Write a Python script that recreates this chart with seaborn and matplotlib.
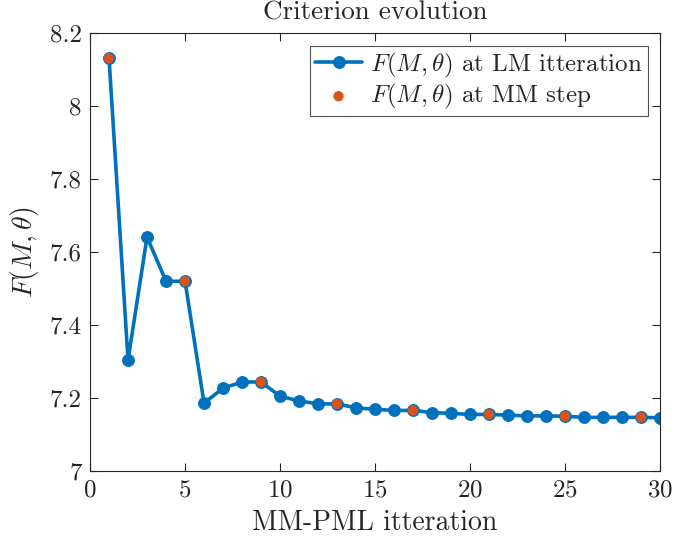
import matplotlib
matplotlib.use("Agg")
import matplotlib.pyplot as plt
import seaborn as sns
import pandas as pd

# LM iterations and criterion value
lm_iter = list(range(1, 31))
lm_crit = [8.131, 7.304, 7.641, 7.520, 7.520, 7.186, 7.227, 7.244, 7.244, 7.205,
           7.192, 7.184, 7.184, 7.173, 7.169, 7.166, 7.166, 7.160, 7.158, 7.155,
           7.155, 7.153, 7.151, 7.151, 7.150, 7.147, 7.147, 7.147, 7.147, 7.146]

# MM steps (every 4th LM iteration)
mm_iter = [1, 5, 9, 13, 17, 21, 25, 29]
mm_crit = [lm_crit[i - 1] for i in mm_iter]

x_ticks = [0, 5, 10, 15, 20, 25, 30]
y_ticks = [7, 7.2, 7.4, 7.6, 7.8, 8, 8.2]
y_ticklabels = ["7", "7.2", "7.4", "7.6", "7.8", "8", "8.2"]

df_lm = pd.DataFrame({"iter": lm_iter, "crit": lm_crit})
df_mm = pd.DataFrame({"iter": mm_iter, "crit": mm_crit})

sns.set_style("ticks")
plt.rcParams["font.family"] = ["cmr10"]
plt.rcParams["mathtext.fontset"] = "cm"
plt.rcParams["axes.formatter.use_mathtext"] = True

fig = plt.figure(figsize=(6.99, 5.43), dpi=100)
ax = fig.add_axes([0.1288, 0.1326, 0.8155, 0.8064])

sns.lineplot(data=df_lm, x="iter", y="crit", ax=ax, color="#0072BD", linewidth=2.6,
             marker="o", markersize=8.5, markeredgecolor="#0072BD",
             label=r"$F(M,\theta)$ at LM itteration")
sns.scatterplot(data=df_mm, x="iter", y="crit", ax=ax, color="#D95319", s=55,
                edgecolor="none", zorder=3, label=r"$F(M,\theta)$ at MM step")

ax.set_xlim(0, 30)
ax.set_ylim(7, 8.2)
ax.set_xticks(x_ticks)
ax.set_yticks(y_ticks)
ax.set_yticklabels(y_ticklabels)
ax.tick_params(direction="in", top=True, right=True, length=6, width=0.8,
               labelsize=18, colors="#262626", labelcolor="#262626", pad=6)
for sp in ax.spines.values():
    sp.set_color("#262626")
    sp.set_linewidth(0.8)

ax.set_xlabel("MM-PML itteration", fontsize=20, color="#262626", labelpad=6)
ax.set_ylabel(r"$F(M,\theta)$", fontsize=20, color="#262626", labelpad=6)
ax.set_title("Criterion evolution", fontsize=19.5, color="#262626", pad=10)

leg = ax.legend(loc="upper right", fontsize=18, frameon=True, fancybox=False,
                borderaxespad=0.5, handlelength=1.9, handletextpad=0.3,
                labelspacing=0.1, borderpad=0.2)
leg.get_frame().set_edgecolor("#262626")
leg.get_frame().set_linewidth(0.8)

fig.savefig("out.png", dpi=100)
